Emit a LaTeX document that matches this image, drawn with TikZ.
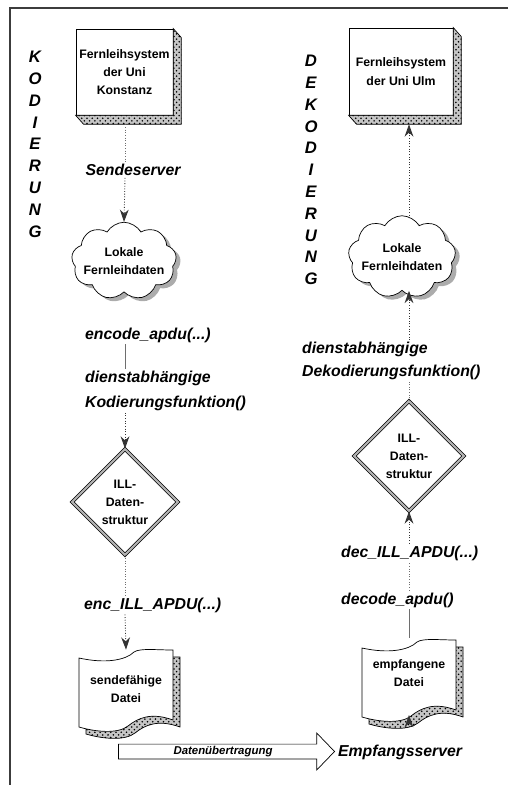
\documentclass[tikz,border=0pt]{standalone}
\usepackage{fontspec}
\setmainfont{Liberation Sans}
\usepackage{tikz}
\usetikzlibrary{arrows.meta, calc, shapes.geometric, shapes.symbols, shapes.arrows, patterns, shadows}
\definecolor{framegray}{RGB}{60, 60, 60}
\definecolor{linegray}{RGB}{110, 110, 110}

\tikzset{
  boxtext/.style={align=center, inner sep=0pt, font=\fontsize{7}{10.2}\selectfont\bfseries},
  sysbox/.style={boxtext, draw, fill=white, minimum width=1.94cm, minimum height=1.72cm},
  shadowfill/.style={draw, preaction={fill=gray!45}, pattern=crosshatch dots},
  whitefill/.style={draw, fill=white},
  wolke/.style={cloud, cloud puffs=9, cloud puff arc=120, cloud ignores aspect, draw, fill=white,
    inner sep=0pt, minimum width=2.1cm, minimum height=1.55cm,
    drop shadow={shadow xshift=2.5pt, shadow yshift=-2pt, fill=gray!65, opacity=1},
    label={[boxtext]center:Lokale\\Fernleihdaten}},
  raute/.style={boxtext, diamond, aspect=1, draw, double=gray!60, double distance=1.2pt, fill=white},
  doctext/.style={boxtext, minimum width=1.88cm},
  funclabel/.style={anchor=west, align=left, inner sep=1pt, font=\fontsize{9}{13}\selectfont\bfseries\itshape},
  vletter/.style={inner sep=0pt, font=\fontsize{9.5}{10}\selectfont\bfseries\itshape},
  pfeil/.style={single arrow, draw, fill=white, inner sep=0pt, single arrow head extend=0.17cm,
    single arrow tip angle=92, minimum height=4.32cm, minimum width=0.74cm,
    font=\fontsize{6.5}{7}\selectfont\bfseries\itshape},
  conn/.style={draw=linegray, densely dotted, line width=0.5pt},
  solidconn/.style={draw=linegray, line width=0.5pt},
  arr/.style={-{Stealth[length=7pt, width=5pt]}, draw=black!80},
  datei/.pic={
    \foreach \o/\sty in {7/shadowfill, 0/whitefill}
      \draw[\sty, shift={(\o,\o)}] (-47,-32) .. controls (-20,-26) and (0,-30) .. (8,-38)
        .. controls (14,-42) and (30,-40) .. (47,-40) -- (47,30)
        .. controls (25,22) and (12,28) .. (2,36) .. controls (-8,44) and (-30,42) .. (-47,37) -- cycle;
  }
}

\begin{document}
\begin{tikzpicture}[x=0.02cm, y=-0.02cm]
    \useasboundingbox (0,0) rectangle (508,785);
    \draw[framegray, line width=0.7pt] (508,8) -- (10,8) -- (10,785);

    % vertical captions
    \foreach \l [count=\i] in {K,O,D,I,E,R,U,N,G}
        \node[vletter] (kod\i) at (35,{57+21.8*(\i-1)}) {\l};
    \foreach \l [count=\i] in {D,E,K,O,D,I,E,R,U,N,G}
        \node[vletter] (dek\i) at (311,{61+21.8*(\i-1)}) {\l};

    % Kodierung
    \node[sysbox] (kbox) at (124.5,72) {Fernleihsystem\\der Uni\\Konstanz};
    \node[funclabel, anchor=center] (lsend) at (133,170) {Sendeserver};
    \node[wolke] (lcloud) at (124,261) {};
    \node[funclabel] (lenc) at (83,335) {encode\_apdu(...)};
    \node[funclabel] (lkod) at (83,391) {dienstabhängige\\[1pt]Kodierungsfunktion()};
    \node[raute, minimum size=2.12cm] (ldia) at (125,502) {ILL-\\Daten-\\struktur};
    \node[funclabel] (lill) at (82,605) {enc\_ILL\_APDU(...)};
    \node[pfeil] (trans) at (223,751.5) {Datenübertragung};
    \pic at (126,690) {datei};
    \node[doctext, minimum height=1.56cm] (ldoc) at (126,689) {sendefähige\\Datei};
    \node[funclabel] (lempf) at (336,752) {Empfangsserver};

    % Dekodierung
    \node[sysbox, minimum width=2.08cm, minimum height=1.74cm] (ubox) at (401,71.5) {Fernleihsystem\\[1pt]der Uni Ulm};
    \node[wolke, minimum width=2.15cm, minimum height=1.65cm] (rcloud) at (402,257) {};
    \node[funclabel] (rdek) at (300,361) {dienstabhängige\\Dekodierungsfunktion()};
    \node[raute, minimum size=2.2cm] (rdia) at (409,456) {ILL-\\Daten-\\struktur};
    \node[funclabel] (rdec) at (339,553) {dec\_ILL\_APDU(...)};
    \node[funclabel] (rdecode) at (339,600) {decode\_apdu()};
    \pic at (409,680) {datei};
    \node[doctext, minimum height=1.4cm] (rdoc) at (409,673) {empfangene\\Datei};

    % 3d sides of the boxes
    \foreach \b in {kbox,ubox}
        \filldraw[shadowfill] (\b.north east) -- ++(8,9) -- ($(\b.south east)+(8,9)$)
            -- ($(\b.south west)+(8,9)$) -- (\b.south west) -- (\b.south east) -- cycle;

    % connectors
    \draw[conn] ($(kbox.south -| ldia)+(0,9)$) -- (lsend.north -| ldia);
    \draw[conn, arr] (lsend.south -| ldia) -- (lcloud.north);
    \draw[solidconn] (lenc.south -| ldia) -- (lkod.north -| ldia);
    \draw[conn, arr] (lkod.south -| ldia) -- (ldia.north);
    \draw[conn] (ldia.south) -- (lill.north -| ldia);
    \draw[conn, arr] (lill.south -| ldia) -- (ldoc.north);

    \draw[conn, arr] (rcloud.north -| rdia) -- ($(ubox.south -| rdia)+(0,9)$);
    \draw[conn, arr] (rdek.north -| rdia) -- (rcloud.south -| rdia);
    \draw[conn] (rdia.north) -- (rdek.south -| rdia);
    \draw[conn, arr] (rdec.north -| rdia) -- (rdia.south);
    \draw[conn] (rdecode.north -| rdia) -- (rdec.south -| rdia);
    \draw[solidconn] (rdoc.north) -- (rdecode.south -| rdia);
    \coordinate (rin) at (409,727);
    \coordinate (rtip) at (409,715);
    \draw[conn, arr] (rin) -- (rtip);
\end{tikzpicture}
\end{document}
